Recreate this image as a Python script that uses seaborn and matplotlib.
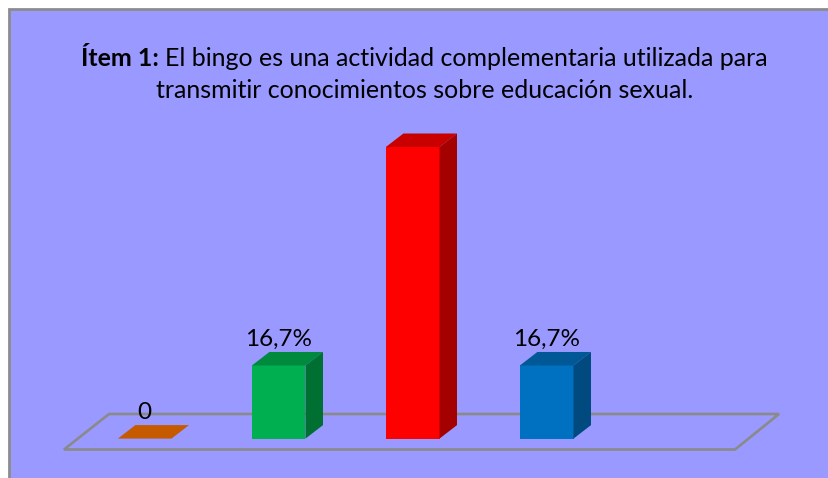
import matplotlib
matplotlib.use("Agg")
import matplotlib.pyplot as plt
from matplotlib.patches import Polygon, Rectangle
from matplotlib.transforms import Affine2D
import pandas as pd
import seaborn as sns

# last category is empty, the floor still leaves room for it
categories = ["A", "B", "C", "D", "E"]
values = [0, 16.7, 66.6, 16.7, None]
labels = ["0", "16,7%", "", "16,7%", ""]
front_colors = ["#C55A00", "#00B050", "#FF0000", "#0070C0", "#FFFFFF"]
top_colors = ["#C55A00", "#008A3E", "#C80000", "#005896", "#FFFFFF"]
side_colors = ["#C55A00", "#006F32", "#A40000", "#004A80", "#FFFFFF"]

W, H = 829, 478
BG = "#9999FF"
DEPTH_X, DEPTH_Y = 17.5, 13.5

df = pd.DataFrame({"cat": categories, "val": values})

sns.set_theme(style="white")
plt.rcParams["font.family"] = ["Lato", "DejaVu Sans"]

fig = plt.figure(figsize=(W / 100, H / 100), dpi=100, facecolor="white")
# pixel coords, y going down like in the picture
px = Affine2D().scale(1, -1).translate(0, H)

fig.add_artist(Rectangle((9, 8.5), W + 10, H + 10, transform=px, facecolor=BG,
                         edgecolor="#8C8C8C", linewidth=2))
fig.add_artist(Polygon([(64, 449.5), (735, 449.5), (779, 414), (109, 414)],
                       closed=True, transform=px, facecolor="none",
                       edgecolor="#8A8A8A", linewidth=1.9))

ax = fig.add_axes([77.7 / W, (H - 438.6) / H, 670 / W, 291.6 / H])
ax.set_zorder(5)
ax.patch.set_alpha(0)
sns.barplot(data=df, x="cat", y="val", hue="cat", palette=front_colors, legend=False,
            width=0.4, saturation=1, linewidth=0, ax=ax, zorder=3)
ax.set_xlim(-0.5, 4.5)
ax.set_ylim(0, 66.6)
ax.set_axis_off()

dx = DEPTH_X / 134
dy = DEPTH_Y * 66.6 / 291.6
bars = [p for p in ax.patches if p.get_height() == p.get_height()]
for bar in bars:
    i = round(bar.get_x() + bar.get_width() / 2)
    x0 = bar.get_x()
    x1 = x0 + bar.get_width()
    h = bar.get_height()
    ax.add_patch(Polygon([(x0, h), (x1, h), (x1 + dx, h + dy), (x0 + dx, h + dy)],
                         facecolor=top_colors[i], edgecolor="none", clip_on=False, zorder=3))
    ax.add_patch(Polygon([(x1, 0), (x1 + dx, dy), (x1 + dx, h + dy), (x1, h)],
                         facecolor=side_colors[i], edgecolor="none", clip_on=False, zorder=3))
    ax.annotate(labels[i], (x0 + bar.get_width() / 2, h), xytext=(0, 18.5),
                textcoords="offset points", ha="center", va="center",
                fontsize=17.5, color="black", annotation_clip=False, zorder=4)

title_y = H - 59
fig.text(81 / W, title_y / H, "Ítem 1:", fontsize=18, fontweight="bold",
         color="black", va="center", ha="left")
fig.text(768 / W, title_y / H, "El bingo es una actividad complementaria utilizada para",
         fontsize=18, color="black", va="center", ha="right")
fig.text(425 / W, (H - 90) / H, "transmitir conocimientos sobre educación sexual.",
         fontsize=18, color="black", va="center", ha="center")

fig.savefig("out.png", dpi=100, facecolor="white")
